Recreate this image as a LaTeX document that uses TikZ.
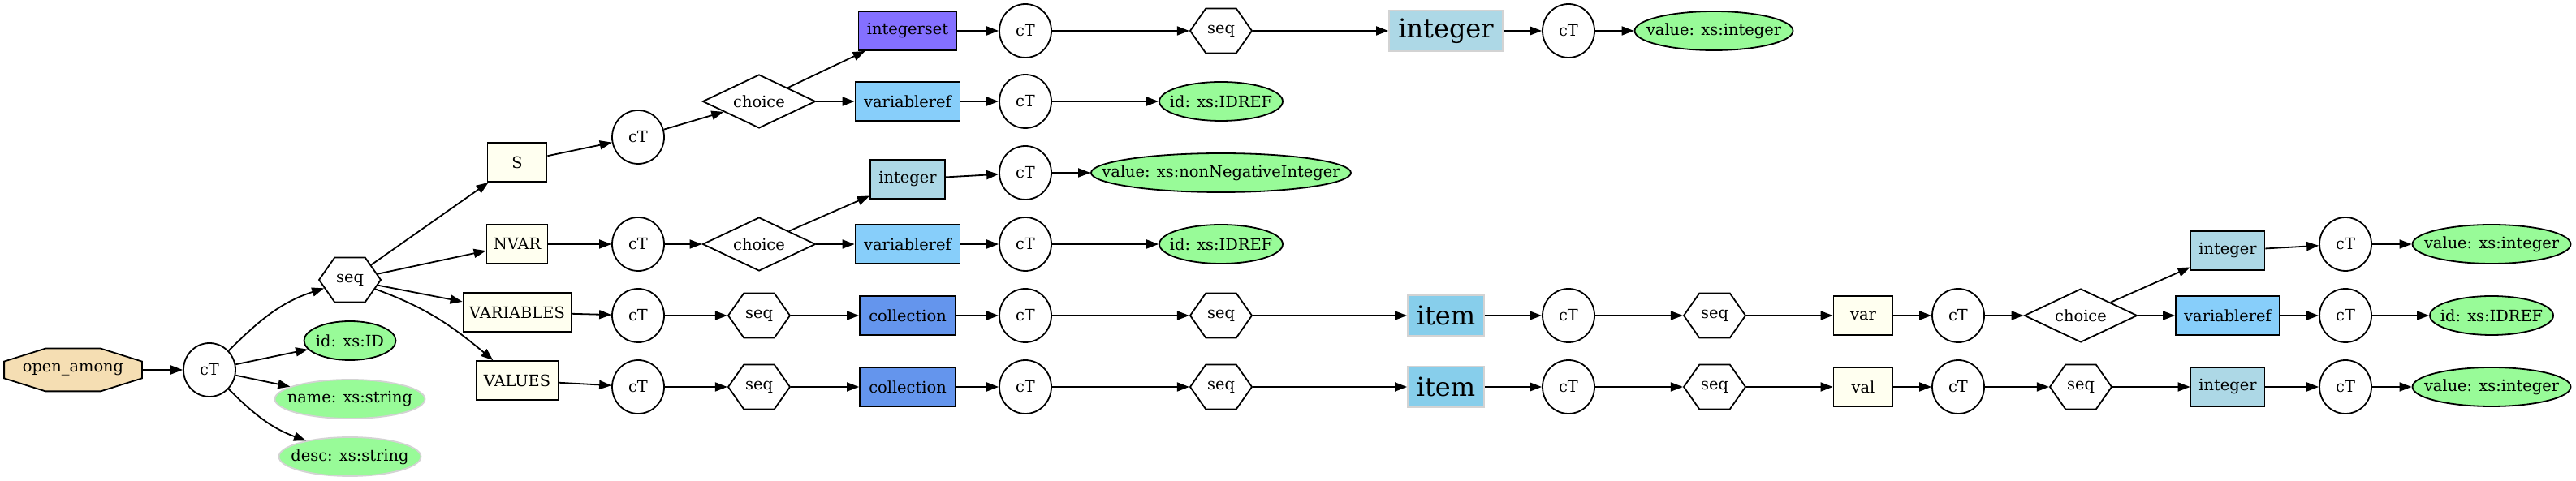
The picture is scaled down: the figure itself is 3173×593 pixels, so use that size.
\documentclass[tikz,border=0pt]{standalone}
\usepackage{fontspec}
\setmainfont{DejaVu Serif}
\usepackage{tikz}
\usetikzlibrary{arrows.meta, backgrounds, positioning, shapes.geometric, shapes.symbols}
\usepackage{xcolor}
\definecolor{Ivory}{HTML}{FFFFF0}
\definecolor{Wheat}{HTML}{F5DEB3}
\definecolor{PaleGreen}{HTML}{98FB98}
\definecolor{LiteBlue}{HTML}{ADD8E6}
\definecolor{SkyBlue}{HTML}{87CEEB}
\definecolor{LiteSkyBlue}{HTML}{87CEFA}
\definecolor{Cornflower}{HTML}{6495ED}
\definecolor{SlateBlue}{HTML}{8470FF}
\definecolor{SoftGray}{HTML}{D3D3D3}
\tikzset{%
  type_ellipse/.style={%
    ellipse,%
    draw=black,%
    line width=0.9pt,%
    minimum width=32pt,%
    minimum height=33pt,%
    inner sep=0pt,%
    font={\fontsize{9.7}{11.6}\selectfont},%
  },
  seq_hex/.style={%
    signal,%
    signal to=east and west,%
    signal pointer angle=110,%
    draw=black,%
    line width=0.9pt,%
    minimum width=38pt,%
    minimum height=27.5pt,%
    inner sep=0pt,%
    font={\fontsize{9.7}{11.6}\selectfont},%
  },
  choice_diamond/.style={%
    diamond,%
    aspect=2,%
    draw=black,%
    line width=0.9pt,%
    minimum width=69.5pt,%
    minimum height=33pt,%
    inner sep=0pt,%
    font={\fontsize{9.7}{11.6}\selectfont},%
  },
  elem_block/.style={%
    rectangle,%
    draw=black,%
    fill=#1,%
    line width=0.9pt,%
    minimum height=24pt,%
    inner sep=0pt,%
    font={\fontsize{9.7}{11.6}\selectfont},%
  },
  big_block/.style={%
    rectangle,%
    draw=SoftGray,%
    fill=#1,%
    line width=0.9pt,%
    minimum height=25pt,%
    inner sep=0pt,%
    font={\fontsize{16}{19}\selectfont},%
  },
  attr_req/.style={%
    ellipse,%
    draw=black,%
    fill=PaleGreen,%
    line width=0.9pt,%
    minimum width=#1,%
    minimum height=24pt,%
    inner sep=0pt,%
    font={\fontsize{9.7}{11.6}\selectfont},%
    execute at begin node={\hbox to 0pt\bgroup\hss},%
    execute at end node={\hss\egroup},%
  },
  attr_opt/.style={%
    attr_req=#1,%
    draw=SoftGray,%
  },
  root_block/.style={%
    rectangle,%
    minimum width=84.5pt,%
    minimum height=26pt,%
    inner sep=0pt,%
    font={\fontsize{9.7}{11.6}\selectfont},%
  },
  root_border/.style={%
    draw=black,%
    fill=Wheat,%
    line width=0.9pt,%
  },
  link/.style={%
    color=black,%
    line width=0.9pt,%
  },
  arrow/.style={-{Triangle[length=7.5pt, width=5.5pt]}},
}
\begin{document}
\begin{tikzpicture}[x=0.5pt, y=0.5pt, on grid]
  \useasboundingbox (0, 0) rectangle (3173, 593);

  \node [root_block] (open_among) at (90, 137) {open\_among};
  \node [type_ellipse, right = 168 of open_among] (cT_root) {cT};
  \node [seq_hex, above right = 111 and 173 of cT_root] (seq_root) {seq};
  \node [attr_req=56.5pt, above right = 36 and 173 of cT_root] (id_root) {id: xs:ID};
  \node [attr_opt=92.5pt, below right = 36 and 173 of cT_root] (name_root) {name: xs:string};
  \node [attr_opt=87.5pt, below right = 107 and 173 of cT_root] (desc_root) {desc: xs:string};

  \node [elem_block=Ivory, minimum width=36.5pt, above right = 145 and 206 of seq_root] (S) {S};
  \node [type_ellipse, above right = 31 and 149 of S] (cT_S) {cT};
  \node [choice_diamond, above right = 44 and 149 of cT_S] (choice_S) {choice};
  \node [elem_block=SlateBlue, minimum width=60.5pt, above right = 87 and 183 of choice_S] (integerset) {integerset};
  \node [elem_block=LiteSkyBlue, minimum width=64.5pt, right = 183 of choice_S] (vref_S) {variableref};
  \node [type_ellipse, right = 145 of integerset] (cT_iset) {cT};
  \node [seq_hex, right = 241 of cT_iset] (seq_iset) {seq};
  \node [big_block=LiteBlue, minimum width=70pt, right = 277 of seq_iset] (integer_iset) {integer};
  \node [type_ellipse, right = 151 of integer_iset] (cT_integer_iset) {cT};
  \node [attr_req=97.5pt, right = 179 of cT_integer_iset] (value_iset) {value: xs:integer};
  \node [type_ellipse, right = 145 of vref_S] (cT_vref_S) {cT};
  \node [attr_req=76pt, right = 241 of cT_vref_S] (id_vref_S) {id: xs:IDREF};

  \node [elem_block=Ivory, minimum width=37.5pt, above right = 44 and 206 of seq_root] (NVAR) {NVAR};
  \node [type_ellipse, right = 149 of NVAR] (cT_N) {cT};
  \node [choice_diamond, right = 149 of cT_N] (choice_N) {choice};
  \node [elem_block=LiteBlue, minimum width=46pt, above right = 80 and 183 of choice_N] (integer_N) {integer};
  \node [elem_block=LiteSkyBlue, minimum width=64.5pt, right = 183 of choice_N] (vref_N) {variableref};
  \node [type_ellipse, above right = 8 and 145 of integer_N] (cT_integer_N) {cT};
  \node [attr_req=160pt, right = 241 of cT_integer_N] (value_N) {value: xs:nonNegativeInteger};
  \node [type_ellipse, right = 145 of vref_N] (cT_vref_N) {cT};
  \node [attr_req=76pt, right = 241 of cT_vref_N] (id_vref_N) {id: xs:IDREF};

  \node [elem_block=Ivory, minimum width=66.5pt, below right = 40 and 206 of seq_root] (VARIABLES) {VARIABLES};
  \node [type_ellipse, below right = 4 and 149 of VARIABLES] (cT_vars) {cT};
  \node [seq_hex, right = 149 of cT_vars] (seq_vars) {seq};
  \node [elem_block=Cornflower, minimum width=59pt, right = 183 of seq_vars] (coll_vars) {collection};
  \node [type_ellipse, right = 145 of coll_vars] (cT_coll_vars) {cT};
  \node [seq_hex, right = 241 of cT_coll_vars] (seq_coll_vars) {seq};
  \node [big_block=SkyBlue, minimum width=47pt, right = 277 of seq_coll_vars] (item_vars) {item};
  \node [type_ellipse, right = 151 of item_vars] (cT_item_vars) {cT};
  \node [seq_hex, right = 180 of cT_item_vars] (seq_item_vars) {seq};
  \node [elem_block=Ivory, minimum width=36.5pt, right = 183 of seq_item_vars] (var) {var};
  \node [type_ellipse, right = 117 of var] (cT_var) {cT};
  \node [choice_diamond, right = 151 of cT_var] (choice_var) {choice};
  \node [elem_block=LiteBlue, minimum width=45.5pt, above right = 80 and 181 of choice_var] (integer_var) {integer};
  \node [elem_block=LiteSkyBlue, minimum width=64pt, right = 181 of choice_var] (vref_var) {variableref};
  \node [type_ellipse, above right = 8 and 145 of integer_var] (cT_integer_var) {cT};
  \node [attr_req=97.5pt, right = 180 of cT_integer_var] (value_var) {value: xs:integer};
  \node [type_ellipse, right = 145 of vref_var] (cT_vref_var) {cT};
  \node [attr_req=76pt, right = 180 of cT_vref_var] (id_vref_var) {id: xs:IDREF};

  \node [elem_block=Ivory, minimum width=50.5pt, below right = 124 and 206 of seq_root] (VALUES) {VALUES};
  \node [type_ellipse, below right = 8 and 149 of VALUES] (cT_vals) {cT};
  \node [seq_hex, right = 149 of cT_vals] (seq_vals) {seq};
  \node [elem_block=Cornflower, minimum width=59pt, right = 183 of seq_vals] (coll_vals) {collection};
  \node [type_ellipse, right = 145 of coll_vals] (cT_coll_vals) {cT};
  \node [seq_hex, right = 241 of cT_coll_vals] (seq_coll_vals) {seq};
  \node [big_block=SkyBlue, minimum width=47pt, right = 277 of seq_coll_vals] (item_vals) {item};
  \node [type_ellipse, right = 151 of item_vals] (cT_item_vals) {cT};
  \node [seq_hex, right = 180 of cT_item_vals] (seq_item_vals) {seq};
  \node [elem_block=Ivory, minimum width=36.5pt, right = 183 of seq_item_vals] (val) {val};
  \node [type_ellipse, right = 117 of val] (cT_val) {cT};
  \node [seq_hex, right = 151 of cT_val] (seq_val) {seq};
  \node [elem_block=LiteBlue, minimum width=45.5pt, right = 181 of seq_val] (integer_val) {integer};
  \node [type_ellipse, right = 145 of integer_val] (cT_integer_val) {cT};
  \node [attr_req=97.5pt, right = 180 of cT_integer_val] (value_val) {value: xs:integer};

  \begin{scope}[on background layer]
    \draw [root_border]
      ([xshift=25.5pt]open_among.north west)
      --
      ([xshift=-25.5pt]open_among.north east)
      --
      ([yshift=-8pt]open_among.north east)
      --
      ([yshift=8pt]open_among.south east)
      --
      ([xshift=-25.5pt]open_among.south east)
      --
      ([xshift=25.5pt]open_among.south west)
      --
      ([yshift=8pt]open_among.south west)
      --
      ([yshift=-8pt]open_among.north west)
      --
      cycle;
  \end{scope}

  \draw [arrow, link] (open_among) -- (cT_root);
  \draw [arrow, link] (cT_root) to [out=45, in=198] (seq_root);
  \draw [arrow, link] (cT_root) -- (id_root);
  \draw [arrow, link] (cT_root) -- (name_root);
  \draw [arrow, link] (cT_root) to [out=-45, in=160] (desc_root);
  \draw [arrow, link] (seq_root) -- (S);
  \draw [arrow, link] (seq_root) -- (NVAR);
  \draw [arrow, link] (seq_root) -- (VARIABLES);
  \draw [arrow, link] (seq_root) to [out=-20, in=140] (VALUES);

  \draw [arrow, link] (S) -- (cT_S);
  \draw [arrow, link] (cT_S) -- (choice_S);
  \draw [arrow, link] (choice_S) -- (integerset);
  \draw [arrow, link] (choice_S) -- (vref_S);
  \draw [arrow, link] (integerset) -- (cT_iset);
  \draw [arrow, link] (cT_iset) -- (seq_iset);
  \draw [arrow, link] (seq_iset) -- (integer_iset);
  \draw [arrow, link] (integer_iset) -- (cT_integer_iset);
  \draw [arrow, link] (cT_integer_iset) -- (value_iset);
  \draw [arrow, link] (vref_S) -- (cT_vref_S);
  \draw [arrow, link] (cT_vref_S) -- (id_vref_S);

  \draw [arrow, link] (NVAR) -- (cT_N);
  \draw [arrow, link] (cT_N) -- (choice_N);
  \draw [arrow, link] (choice_N) -- (integer_N);
  \draw [arrow, link] (choice_N) -- (vref_N);
  \draw [arrow, link] (integer_N) -- (cT_integer_N);
  \draw [arrow, link] (cT_integer_N) -- (value_N);
  \draw [arrow, link] (vref_N) -- (cT_vref_N);
  \draw [arrow, link] (cT_vref_N) -- (id_vref_N);

  \draw [arrow, link] (VARIABLES) -- (cT_vars);
  \draw [arrow, link] (cT_vars) -- (seq_vars);
  \draw [arrow, link] (seq_vars) -- (coll_vars);
  \draw [arrow, link] (coll_vars) -- (cT_coll_vars);
  \draw [arrow, link] (cT_coll_vars) -- (seq_coll_vars);
  \draw [arrow, link] (seq_coll_vars) -- (item_vars);
  \draw [arrow, link] (item_vars) -- (cT_item_vars);
  \draw [arrow, link] (cT_item_vars) -- (seq_item_vars);
  \draw [arrow, link] (seq_item_vars) -- (var);
  \draw [arrow, link] (var) -- (cT_var);
  \draw [arrow, link] (cT_var) -- (choice_var);
  \draw [arrow, link] (choice_var) -- (integer_var);
  \draw [arrow, link] (choice_var) -- (vref_var);
  \draw [arrow, link] (integer_var) -- (cT_integer_var);
  \draw [arrow, link] (cT_integer_var) -- (value_var);
  \draw [arrow, link] (vref_var) -- (cT_vref_var);
  \draw [arrow, link] (cT_vref_var) -- (id_vref_var);

  \draw [arrow, link] (VALUES) -- (cT_vals);
  \draw [arrow, link] (cT_vals) -- (seq_vals);
  \draw [arrow, link] (seq_vals) -- (coll_vals);
  \draw [arrow, link] (coll_vals) -- (cT_coll_vals);
  \draw [arrow, link] (cT_coll_vals) -- (seq_coll_vals);
  \draw [arrow, link] (seq_coll_vals) -- (item_vals);
  \draw [arrow, link] (item_vals) -- (cT_item_vals);
  \draw [arrow, link] (cT_item_vals) -- (seq_item_vals);
  \draw [arrow, link] (seq_item_vals) -- (val);
  \draw [arrow, link] (val) -- (cT_val);
  \draw [arrow, link] (cT_val) -- (seq_val);
  \draw [arrow, link] (seq_val) -- (integer_val);
  \draw [arrow, link] (integer_val) -- (cT_integer_val);
  \draw [arrow, link] (cT_integer_val) -- (value_val);
\end{tikzpicture}
\end{document}
